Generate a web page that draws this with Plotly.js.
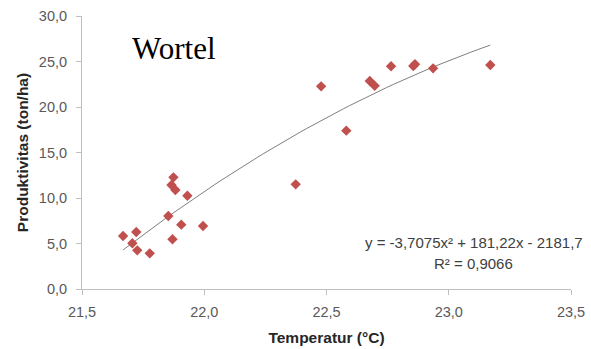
<!DOCTYPE html>
<html><head><meta charset="utf-8">
<script src="https://cdn.plot.ly/plotly-3.0.1.min.js"></script>
<style>html,body{margin:0;padding:0;background:#fff}#c{width:591px;height:349px}</style>
</head><body><div id="c"></div>
<script>
const temperature = [21.668,21.706,21.722,21.726,21.777,21.853,21.866,21.874,21.882,21.870,21.906,21.931,21.995,22.374,22.478,22.581,22.677,22.697,22.764,22.855,22.862,22.936,23.170];
const productivity = [5.82,5.02,6.26,4.25,3.92,8.02,11.43,12.27,10.88,5.46,7.07,10.25,6.92,11.5,22.27,17.40,22.86,22.34,24.47,24.5,24.7,24.25,24.62];
const coef = {a:-3.7075, b:181.22, c:-2181.7};
const xTicks = [21.5,22.0,22.5,23.0,23.5];
const yTicks = [0,5,10,15,20,25,30];

const xmin = Math.min(...temperature), xmax = Math.max(...temperature);
const tx = [], ty = [];
for (let i=0;i<=60;i++){const x=xmin+(xmax-xmin)*i/60; tx.push(x); ty.push(coef.a*x*x+coef.b*x+coef.c);}

const tickFont = {family:'Liberation Sans, Arial, sans-serif', size:14.5, color:'#595959'};
const titleFont = {family:'Liberation Sans, Arial, sans-serif', size:15.5, color:'#262626'};
const data = [
 {x:tx, y:ty, mode:'lines', line:{color:'#7f7f7f', width:1}, hoverinfo:'skip'},
 {x:temperature, y:productivity, mode:'markers', marker:{symbol:'diamond', size:8, color:'#c0504d'}}
];
const layout = {
 width:591, height:349, showlegend:false, separators:',.',
 paper_bgcolor:'#fff', plot_bgcolor:'#fff',
 margin:{l:82, r:20, t:16, b:60},
 xaxis:{range:[21.5,23.5], tickvals:xTicks, tickformat:'.1f', showgrid:false, zeroline:false,
   showline:true, linecolor:'#bfbfbf', linewidth:1, ticks:'outside', ticklen:5, tickcolor:'#bfbfbf',
   tickfont:tickFont, ticklabelstandoff:5,
   title:{text:'<b>Temperatur (°C)</b>', font:titleFont, standoff:12}},
 yaxis:{range:[0,30], tickvals:yTicks, tickformat:'.1f', showgrid:false, zeroline:false,
   showline:true, linecolor:'#bfbfbf', linewidth:1, ticks:'outside', ticklen:5, tickcolor:'#bfbfbf',
   tickfont:tickFont, ticklabelstandoff:6,
   title:{text:'<b>Produktivitas (ton/ha)</b>', font:titleFont, standoff:6}},
 annotations:[
  {xref:'paper', yref:'paper', x:(174-82)/489, y:(289-48)/273, text:'Wortel', showarrow:false,
   font:{family:'Liberation Serif, Times New Roman, serif', size:31, color:'#000'}, xanchor:'center', yanchor:'middle'},
  {xref:'paper', yref:'paper', x:(585-82)/489, y:(289-243)/273, text:'y = -3,7075x² + 181,22x - 2181,7', showarrow:false,
   font:{family:'Liberation Sans, Arial, sans-serif', size:15, color:'#404040'}, xanchor:'right', yanchor:'middle'},
  {xref:'paper', yref:'paper', x:(473-82)/489, y:(289-263)/273, text:'R² = 0,9066', showarrow:false,
   font:{family:'Liberation Sans, Arial, sans-serif', size:15, color:'#404040'}, xanchor:'center', yanchor:'middle'}
 ]
};
Plotly.newPlot('c', data, layout, {staticPlot:true, displayModeBar:false});
</script></body></html>
